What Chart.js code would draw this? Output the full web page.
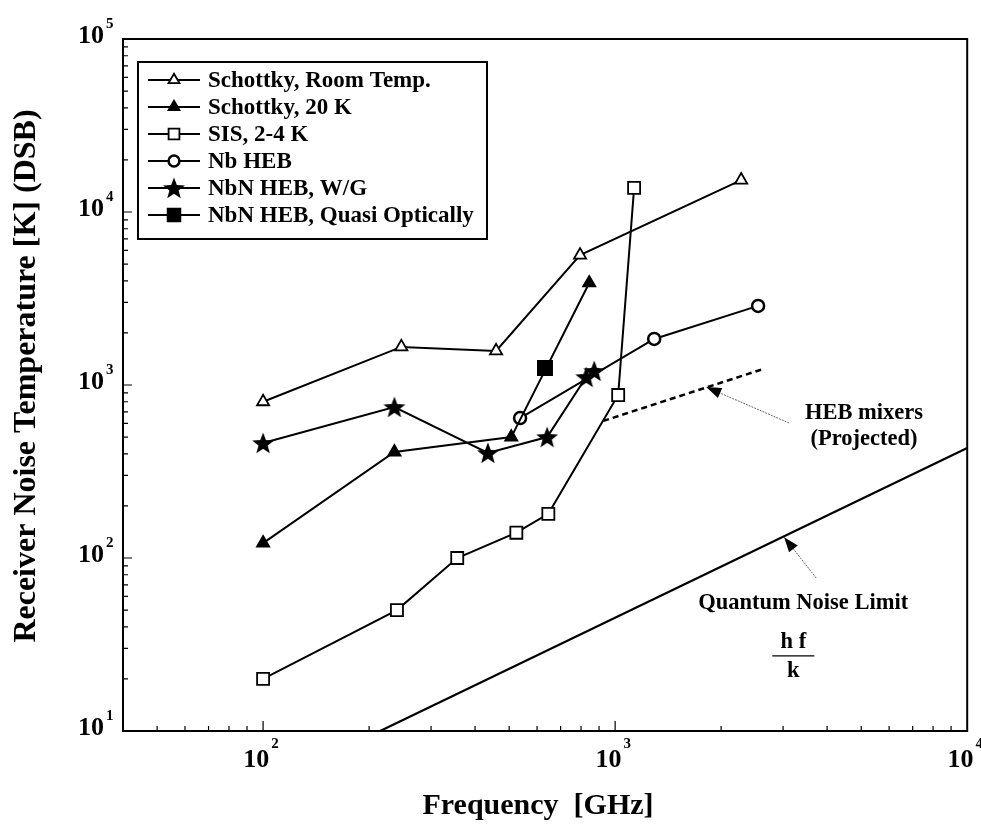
<!DOCTYPE html>
<html><head><meta charset="utf-8">
<script src="https://cdn.jsdelivr.net/npm/chart.js@4"></script>
<style>html,body{margin:0;padding:0;background:#fff}canvas{display:block}</style>
</head><body>
<canvas id="c" width="981" height="830"></canvas>
<script>
// ---------- data ----------
const schottkyRoomFreq = [100, 247, 459, 795, 2280];
const schottkyRoomTemp = [800, 1660, 1574, 5630, 15300];
const schottky20Freq = [100, 236, 507, 844];
const schottky20Temp = [122, 410, 500, 3890];
const sisFreq = [100, 240, 356, 524, 646, 1020, 1132];
const sisTemp = [20, 50, 100, 140, 180, 875, 13800];
const nbHebFreq = [537, 1291, 2547];
const nbHebTemp = [644, 1845, 2865];
const nbnWgFreq = [100, 236, 435, 641, 828, 872];
const nbnWgTemp = [462, 746, 405, 500, 1112, 1205];
const nbnQoFreq = [632];
const nbnQoTemp = [1253];
const hebProjFreq = [925, 2630];
const hebProjTemp = [620, 1236];
const quantumFreq = [215, 10000];
const quantumTemp = [10, 432];
const xDecades = [100, 1000, 10000];
const yDecades = [10, 100, 1000, 10000, 100000];
const seriesLabels = ['Schottky, Room Temp.', 'Schottky, 20 K', 'SIS, 2-4 K', 'Nb HEB', 'NbN HEB, W/G', 'NbN HEB, Quasi Optically'];

const SERIF = '"Liberation Serif", "Times New Roman", serif';

function pts(xa, ya) { return xa.map((x, i) => ({x: x, y: ya[i]})); }

function makeStar(size) {
  const c = document.createElement('canvas');
  c.width = size; c.height = size;
  const g = c.getContext('2d');
  const cx = size / 2, cy = size / 2 + 1, R = size / 2 - 0.5, r = R * 0.42;
  g.beginPath();
  for (let i = 0; i < 10; i++) {
    const a = -Math.PI / 2 + i * Math.PI / 5;
    const rr = i % 2 ? r : R;
    g.lineTo(cx + rr * Math.cos(a), cy + rr * Math.sin(a));
  }
  g.closePath();
  g.fillStyle = '#000';
  g.fill();
  return c;
}
const starImg = makeStar(24);

const base = {showLine: true, borderColor: '#000', borderWidth: 2, pointBorderColor: '#000', pointBorderWidth: 1.8, tension: 0};
const datasets = [
  Object.assign({}, base, {label: seriesLabels[0], data: pts(schottkyRoomFreq, schottkyRoomTemp), pointStyle: 'triangle', pointRadius: 7, pointBackgroundColor: '#fff'}),
  Object.assign({}, base, {label: seriesLabels[1], data: pts(schottky20Freq, schottky20Temp), pointStyle: 'triangle', pointRadius: 7, pointBackgroundColor: '#000'}),
  Object.assign({}, base, {label: seriesLabels[2], data: pts(sisFreq, sisTemp), pointStyle: 'rect', pointRadius: 8.5, pointBackgroundColor: '#fff'}),
  Object.assign({}, base, {label: seriesLabels[3], data: pts(nbHebFreq, nbHebTemp), pointStyle: 'circle', pointRadius: 6, pointBorderWidth: 2.5, pointBackgroundColor: '#fff'}),
  Object.assign({}, base, {label: seriesLabels[4], data: pts(nbnWgFreq, nbnWgTemp), pointStyle: starImg, pointRadius: 12, pointBackgroundColor: '#000'}),
  Object.assign({}, base, {label: seriesLabels[5], data: pts(nbnQoFreq, nbnQoTemp), pointStyle: 'rect', pointRadius: 10, pointBackgroundColor: '#000'}),
  Object.assign({}, base, {label: 'HEB mixers (Projected)', data: pts(hebProjFreq, hebProjTemp), pointRadius: 0, borderWidth: 2.5, borderDash: [6, 4]}),
  Object.assign({}, base, {label: 'Quantum Noise Limit', data: pts(quantumFreq, quantumTemp), pointRadius: 0, borderWidth: 2.2})
];

function drawPow(ctx, exp, x, y, mode) {
  ctx.fillStyle = '#000';
  ctx.textBaseline = 'alphabetic';
  ctx.font = 'bold 26px ' + SERIF;
  const w10 = ctx.measureText('10').width;
  ctx.font = 'bold 15px ' + SERIF;
  const we = ctx.measureText(String(exp)).width;
  let x0;
  if (mode === 'y') { x0 = x - w10; } else { x0 = x - (w10 + we + 2) / 2 - 2; }
  ctx.font = 'bold 26px ' + SERIF;
  ctx.textAlign = 'left';
  ctx.fillText('10', x0, y);
  ctx.font = 'bold 15px ' + SERIF;
  ctx.fillText(String(exp), x0 + w10 + 2, y - (mode === 'y' ? 15 : 19));
}

function arrow(ctx, x1, y1, x2, y2) {
  ctx.save();
  ctx.strokeStyle = '#666';
  ctx.lineWidth = 1;
  ctx.setLineDash([2, 1]);
  ctx.beginPath(); ctx.moveTo(x1, y1); ctx.lineTo(x2, y2); ctx.stroke();
  ctx.setLineDash([]);
  const a = Math.atan2(y2 - y1, x2 - x1), L = 15, W = 5.5;
  ctx.fillStyle = '#000';
  ctx.beginPath();
  ctx.moveTo(x2, y2);
  ctx.lineTo(x2 - L * Math.cos(a) + W * Math.sin(a), y2 - L * Math.sin(a) - W * Math.cos(a));
  ctx.lineTo(x2 - L * Math.cos(a) - W * Math.sin(a), y2 - L * Math.sin(a) + W * Math.cos(a));
  ctx.closePath(); ctx.fill();
  ctx.restore();
}

const deco = {
  id: 'deco',
  afterDraw(chart) {
    const ctx = chart.ctx, a = chart.chartArea;
    const xs = chart.scales.x, ys = chart.scales.y;
    const X = v => xs.getPixelForValue(v), Y = v => ys.getPixelForValue(v);
    ctx.save();
    // frame
    ctx.strokeStyle = '#000'; ctx.lineWidth = 2;
    ctx.strokeRect(a.left, a.top, a.right - a.left, a.bottom - a.top);
    // inside ticks
    ctx.lineWidth = 1.2;
    ctx.beginPath();
    for (let d = 10; d < 100000; d *= 10) {
      for (let m = 1; m < 10; m++) {
        const v = d * m; const py = Y(v); const len = m === 1 ? 9 : 5;
        if (py < a.top || py > a.bottom) continue;
        ctx.moveTo(a.left, py); ctx.lineTo(a.left + len, py);
      }
    }
    for (let d = 10; d < 10000; d *= 10) {
      for (let m = 1; m < 10; m++) {
        const v = d * m; const px = X(v); const len = m === 1 ? 10 : 5;
        if (px < a.left || px > a.right) continue;
        ctx.moveTo(px, a.bottom); ctx.lineTo(px, a.bottom - len);
      }
    }
    ctx.stroke();
    // tick labels
    yDecades.forEach(v => drawPow(ctx, Math.round(Math.log10(v)), a.left - 19, Y(v) + 4, 'y'));
    xDecades.forEach(v => drawPow(ctx, Math.round(Math.log10(v)), X(v), a.bottom + 36, 'x'));
    // axis titles
    ctx.fillStyle = '#000';
    ctx.textAlign = 'center'; ctx.textBaseline = 'middle';
    ctx.font = 'bold 30px ' + SERIF;
    ctx.fillText('Frequency  [GHz]', 538, 806);
    ctx.save();
    ctx.font = 'bold 32px ' + SERIF;
    ctx.translate(27, 376); ctx.rotate(-Math.PI / 2);
    ctx.fillText('Receiver Noise Temperature [K] (DSB)', 0, 0);
    ctx.restore();
    // legend
    const lx = 138, ly = 62, lw = 349, lh = 177;
    ctx.lineWidth = 2; ctx.strokeStyle = '#000';
    ctx.strokeRect(lx, ly, lw, lh);
    ctx.font = 'bold 23px ' + SERIF;
    ctx.textAlign = 'left'; ctx.textBaseline = 'middle';
    for (let i = 0; i < 6; i++) {
      const ds = chart.data.datasets[i];
      const ry = ly + 18 + i * 27;
      ctx.lineWidth = 2; ctx.strokeStyle = '#000';
      ctx.beginPath(); ctx.moveTo(lx + 10, ry); ctx.lineTo(lx + 62, ry); ctx.stroke();
      ctx.fillStyle = ds.pointBackgroundColor; ctx.strokeStyle = '#000';
      ctx.lineWidth = ds.pointBorderWidth || 1.8;
      Chart.helpers.drawPoint(ctx, {pointStyle: ds.pointStyle, radius: ds.pointRadius * (i === 4 ? 1 : 0.9), rotation: 0, borderWidth: ctx.lineWidth}, lx + 36, ry);
      ctx.fillStyle = '#000';
      ctx.fillText(ds.label, lx + 70, ry + 1);
    }
    // annotations
    ctx.font = 'bold 22.5px ' + SERIF;
    ctx.textAlign = 'center'; ctx.textBaseline = 'middle';
    ctx.fillText('HEB mixers', X(5090), Y(689));
    ctx.fillText('(Projected)', X(5090), Y(488));
    ctx.fillText('Quantum Noise Limit', X(3420), Y(55));
    ctx.fillText('h f', X(3207), Y(32.7));
    ctx.fillText('k', X(3207), Y(22.2));
    ctx.lineWidth = 1.2; ctx.strokeStyle = '#000';
    ctx.beginPath(); ctx.moveTo(X(3207) - 21, Y(27.2)); ctx.lineTo(X(3207) + 21, Y(27.2)); ctx.stroke();
    arrow(ctx, X(3120), Y(603), X(1815), Y(973));
    arrow(ctx, X(3725), Y(76.6), X(3020), Y(132));
    ctx.restore();
  }
};

new Chart(document.getElementById('c'), {
  type: 'scatter',
  data: {datasets: datasets},
  options: {
    responsive: false, animation: false, devicePixelRatio: 1,
    layout: {padding: {left: 123, right: 13, top: 39, bottom: 99}},
    plugins: {legend: {display: false}, tooltip: {enabled: false}},
    scales: {
      x: {type: 'logarithmic', min: 40, max: 10000, ticks: {display: false}, grid: {display: false, drawTicks: false}, border: {display: false}},
      y: {type: 'logarithmic', min: 10, max: 100000, ticks: {display: false}, grid: {display: false, drawTicks: false}, border: {display: false}}
    }
  },
  plugins: [deco]
});
</script>
</body></html>
